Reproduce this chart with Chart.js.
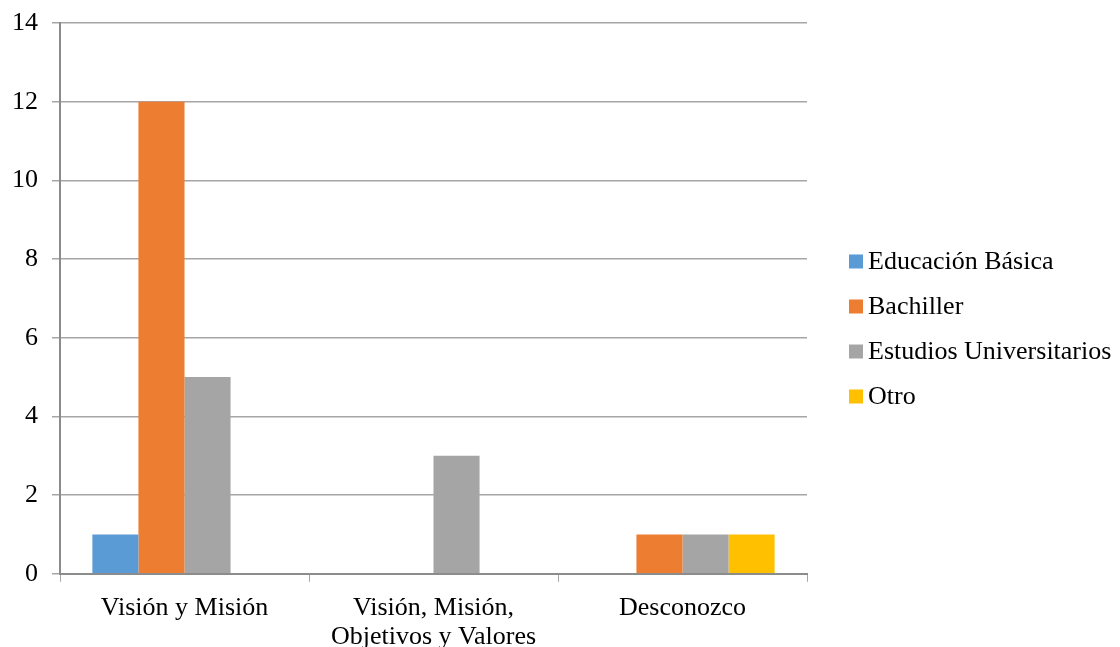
<!DOCTYPE html>
<html>
<head>
<meta charset="utf-8">
<script src="https://cdn.jsdelivr.net/npm/chart.js"></script>
<style>
  html, body { margin: 0; padding: 0; background: #ffffff; }
  #chart-canvas { display: block; }
</style>
</head>
<body>
<canvas id="chart-canvas" width="1120" height="647"></canvas>
<script>
const chartCanvas = document.querySelector("#chart-canvas");

const categories = [["Visión y Misión"], ["Visión, Misión,", "Objetivos y Valores"], ["Desconozco"]];
const seriesNames = ["Educación Básica", "Bachiller", "Estudios Universitarios", "Otro"];
const basica = [1, 0, 0];
const bachiller = [12, 0, 1];
const universitarios = [5, 3, 1];
const otro = [0, 0, 1];
const seriesColors = ["#5B9BD5", "#ED7D31", "#A5A5A5", "#FFC000"];

const fontFamily = "'Liberation Serif', 'Times New Roman', serif";

const data = {
  labels: categories,
  datasets: [basica, bachiller, universitarios, otro].map((values, i) => ({
    label: seriesNames[i],
    data: values,
    backgroundColor: seriesColors[i],
    borderWidth: 0,
    categoryPercentage: 0.74,
    barPercentage: 1,
  })),
};

// legend drawn by hand so the box sits close to the text, like the original
const sideLegend = {
  id: "sideLegend",
  afterDraw(chart) {
    const ctx = chart.ctx;
    const boxX = chart.chartArea.right + 42;
    const rowGap = 45;
    const sets = chart.data.datasets;
    const midY = 329;
    const firstY = midY - (rowGap * (sets.length - 1)) / 2;
    ctx.save();
    ctx.font = "26px " + fontFamily;
    ctx.textBaseline = "middle";
    ctx.textAlign = "left";
    sets.forEach((ds, i) => {
      const y = firstY + i * rowGap;
      ctx.fillStyle = ds.backgroundColor;
      ctx.fillRect(boxX, y - 7, 14, 14);
      ctx.fillStyle = "#000000";
      ctx.fillText(ds.label, boxX + 19, y + 1);
    });
    ctx.restore();
  },
};

new Chart(chartCanvas, {
  type: "bar",
  data: data,
  plugins: [sideLegend],
  options: {
    responsive: false,
    animation: false,
    layout: { padding: { top: 23, left: -2, right: 313, bottom: -16 } },
    plugins: {
      tooltip: { enabled: false },
      legend: { display: false },
    },
    scales: {
      x: {
        grid: {
          drawOnChartArea: false,
          drawTicks: true,
          tickLength: 8,
          color: "#a6a6a6",
        },
        border: { color: "#8c8c8c", width: 2 },
        ticks: {
          color: "#000000",
          font: { family: fontFamily, size: 26, lineHeight: 1.1 },
          padding: 12,
          maxRotation: 0,
        },
      },
      y: {
        min: 0,
        max: 14,
        afterFit(scale) {
          scale.paddingTop = 0;
        },
        ticks: {
          stepSize: 2,
          color: "#000000",
          font: { family: fontFamily, size: 26 },
          padding: 14,
        },
        grid: {
          color: "#a6a6a6",
          lineWidth: 1.5,
          tickLength: 8,
        },
        border: { color: "#8c8c8c", width: 2 },
      },
    },
  },
});
</script>
</body>
</html>
